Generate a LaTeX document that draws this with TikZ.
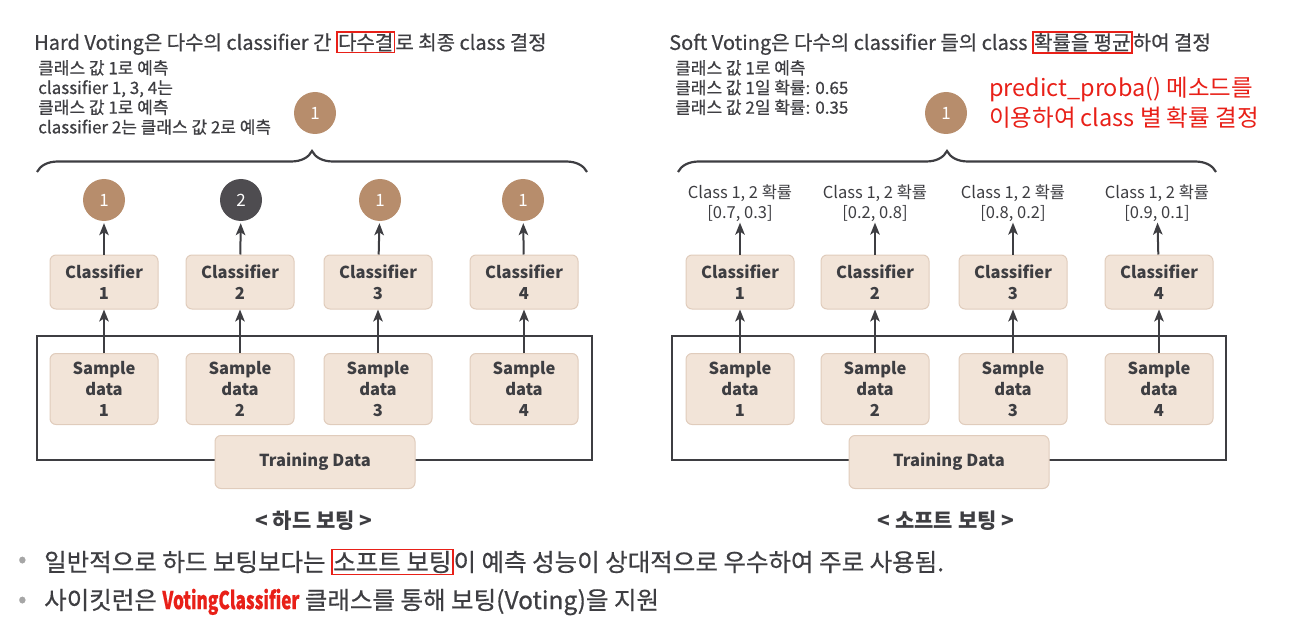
\documentclass[tikz,border=0pt]{standalone}
\usepackage{fontspec}
\setmainfont{Noto Sans CJK KR}
\newfontfamily\krmid{Noto Sans CJK KR}[FakeBold=0.6]
\usepackage{xcolor}
\usepackage{tikz}
\usetikzlibrary{positioning,arrows.meta,decorations.pathreplacing}

\newcommand{\hlbox}[1]{{\setlength{\fboxsep}{0.5pt}\setlength{\fboxrule}{1.6pt}\fcolorbox{hlred}{white}{#1}}}

\begin{document}
\begin{tikzpicture}[x=1pt,y=-1pt]
	\definecolor{votetan}{RGB}{183,141,108}
	\definecolor{votedark}{RGB}{78,76,80}
	\definecolor{boxfill}{RGB}{242,228,216}
	\definecolor{boxline}{RGB}{224,204,188}
	\definecolor{inkgray}{RGB}{62,62,66}
	\definecolor{hlred}{RGB}{232,32,24}
	\tikzset{
		vote/.style={
			circle, fill=votetan, text=white,
			minimum size=42pt, inner sep=0pt, font=\fontsize{17}{17}\selectfont
		},
		clfbox/.style={
			rectangle, rounded corners=6pt, fill=boxfill, draw=boxline, line width=1pt,
			minimum width=108pt, minimum height=54pt, inner sep=2pt,
			align=center, text=inkgray, font=\fontsize{16.5}{21}\selectfont\bfseries
		},
		smpbox/.style={clfbox, minimum height=71pt},
		trainbox/.style={clfbox, minimum width=200pt, minimum height=53pt},
		flow/.style={
			-{Stealth[length=12pt,width=9.5pt,inset=3pt]},
			draw=inkgray, line width=2pt
		},
		frame/.style={draw=inkgray, line width=2.4pt},
		bracket/.style={
			draw=inkgray, line width=2.2pt,
			decorate, decoration={brace, amplitude=21pt}
		},
		note/.style={
			anchor=north west, align=left, inner sep=0pt, text=inkgray,
			font=\fontsize{17}{19.7}\selectfont\krmid
		},
		prob/.style={align=center, inner sep=1pt, text=inkgray, font=\fontsize{16.5}{20}\selectfont},
		heading/.style={anchor=west, inner sep=0pt, text=inkgray, font=\fontsize{20}{20}\selectfont\krmid},
		caption/.style={text=inkgray, font=\fontsize{21}{21}\selectfont\bfseries},
		bullet/.style={anchor=west, inner sep=0pt, text=inkgray, font=\fontsize{24.5}{25}\selectfont\krmid}
	}
	\useasboundingbox (0,0) rectangle (1313,620);

	% ======= 하드 보팅 =======
	\node[heading] (htitle) at (34,43) {Hard Voting은 다수의 classifier 간 \hlbox{다수결}로 최종 class 결정};
	\node[note] (hnote) at (38,60) {클래스 값 1로 예측\\classifier 1, 3, 4는\\클래스 값 1로 예측\\classifier 2는 클래스 값 2로 예측};
	\node[vote] (hres) at (315,113) {1};
	\draw[bracket] (37,172) -- (587,172);

	\draw[frame] (37,336) rectangle (592,460);

	\node[vote] (hv1) at (104,200) {1};
	\node[vote, fill=votedark] (hv2) at (241,200) {2};
	\node[vote] (hv3) at (380,200) {1};
	\node[vote] (hv4) at (523,200) {1};

	\node[clfbox] (hc1) at (104,282) {Classifier\\1};
	\node[clfbox] (hc2) at (240,282) {Classifier\\2};
	\node[clfbox] (hc3) at (378,282) {Classifier\\3};
	\node[clfbox] (hc4) at (524,282) {Classifier\\4};

	\node[smpbox] (hs1) at (104,389) {Sample\\data\\1};
	\node[smpbox] (hs2) at (240,389) {Sample\\data\\2};
	\node[smpbox] (hs3) at (378,389) {Sample\\data\\3};
	\node[smpbox] (hs4) at (524,389) {Sample\\data\\4};

	\node[trainbox] (htr) at (315,462) {Training Data};

	\draw[flow] (hs1) -- (hc1);
	\draw[flow] (hs2) -- (hc2);
	\draw[flow] (hs3) -- (hc3);
	\draw[flow] (hs4) -- (hc4);
	\draw[flow, shorten >=2pt] (hc1) -- (hv1);
	\draw[flow, shorten >=2pt] (hc2) -- (hv2);
	\draw[flow, shorten >=2pt] (hc3) -- (hv3);
	\draw[flow, shorten >=2pt] (hc4) -- (hv4);

	\node[caption] (hcap) at (314,521) {< 하드 보팅 >};

	% ======= 소프트 보팅 =======
	\node[heading] (stitle) at (669,43) {Soft Voting은 다수의 classifier 들의 class \hlbox{확률을 평균}하여 결정};
	\node[note] (snote) at (675,60) {클래스 값 1로 예측\\클래스 값 1일 확률: 0.65\\클래스 값 2일 확률: 0.35};
	\node[vote] (sres) at (946,113) {1};
	\node[note, text=hlred, font=\fontsize{23.5}{30}\selectfont] (sproba) at (989,77) {predict\_proba() 메소드를\\이용하여 class 별 확률 결정};
	\draw[bracket] (678,172) -- (1216,172);

	\draw[frame] (672,336) rectangle (1226,460);

	\node[prob] (sp1) at (740,203) {Class 1, 2 확률\\{}[0.7, 0.3]};
	\node[prob] (sp2) at (875,203) {Class 1, 2 확률\\{}[0.2, 0.8]};
	\node[prob] (sp3) at (1013,203) {Class 1, 2 확률\\{}[0.8, 0.2]};
	\node[prob] (sp4) at (1157,203) {Class 1, 2 확률\\{}[0.9, 0.1]};

	\node[clfbox] (sc1) at (740,282) {Classifier\\1};
	\node[clfbox] (sc2) at (875,282) {Classifier\\2};
	\node[clfbox] (sc3) at (1013,282) {Classifier\\3};
	\node[clfbox] (sc4) at (1159,282) {Classifier\\4};

	\node[smpbox] (ss1) at (740,389) {Sample\\data\\1};
	\node[smpbox] (ss2) at (875,389) {Sample\\data\\2};
	\node[smpbox] (ss3) at (1013,389) {Sample\\data\\3};
	\node[smpbox] (ss4) at (1159,389) {Sample\\data\\4};

	\node[trainbox] (str) at (949,462) {Training Data};

	\draw[flow] (ss1) -- (sc1);
	\draw[flow] (ss2) -- (sc2);
	\draw[flow] (ss3) -- (sc3);
	\draw[flow] (ss4) -- (sc4);
	\draw[flow] (sc1) -- (sp1);
	\draw[flow] (sc2) -- (sp2);
	\draw[flow] (sc3) -- (sp3);
	\draw[flow] (sc4) -- (sp4);

	\node[caption] (scap) at (946,521) {< 소프트 보팅 >};

	% ======= 정리 =======
	\node[bullet, text=gray!70] (b1) at (18,562) {•};
	\node[bullet] (t1) at (44,562) {일반적으로 하드 보팅보다는 \hlbox{소프트 보팅}이 예측 성능이 상대적으로 우수하여 주로 사용됨.};
	\node[bullet, text=gray!70] (b2) at (18,602) {•};
	\node[bullet] (t2) at (44,602) {사이킷런은 \textcolor{hlred}{\scalebox{0.7}[1]{\bfseries VotingClassifier}} 클래스를 통해 보팅(Voting)을 지원};
\end{tikzpicture}
\end{document}
